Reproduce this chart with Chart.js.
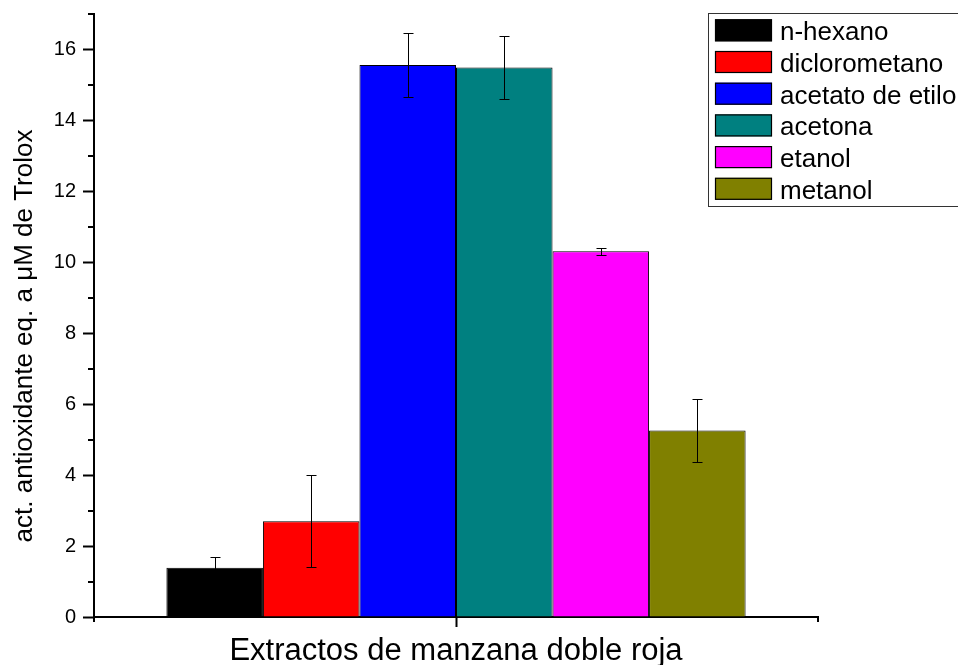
<!DOCTYPE html>
<html>
<head>
<meta charset="utf-8">
<script src="https://cdn.jsdelivr.net/npm/chart.js@4"></script>
<style>
  html, body { margin: 0; padding: 0; background: #ffffff; }
  #wrap { width: 958px; height: 665px; }
</style>
</head>
<body>
<div id="wrap"><canvas id="c" width="958" height="665"></canvas></div>
<script>
// Antioxidant activity (µM Trolox equivalents) by extraction solvent
const categories = ['Extractos de manzana doble roja'];
const solvents = ['n-hexano', 'diclorometano', 'acetato de etilo', 'acetona', 'etanol', 'metanol'];
const activity = [1.39, 2.70, 15.56, 15.49, 10.31, 5.26];
const errors = [0.31, 1.30, 0.90, 0.89, 0.10, 0.90];
const colors = ['#000000', '#ff0000', '#0000ff', '#008080', '#ff00ff', '#808000'];
const yMin = 0, yMax = 17, yMajorStep = 2, yMinorStep = 1;
const yTitle = 'act. antioxidante eq. a \u03bcM de Trolox';

const FONT = "'Liberation Sans', Arial, sans-serif";
Chart.defaults.font.family = FONT;
Chart.defaults.color = '#000000';

const datasets = solvents.map((name, i) => ({
  label: name,
  data: [activity[i]],
  errors: [errors[i]],
  backgroundColor: colors[i],
  borderColor: '#000000',
  borderWidth: 1,
  categoryPercentage: 0.8,
  barPercentage: 1.0
}));

// Error bars, minor ticks, axis-end ticks, y title and legend box
const decor = {
  id: 'decor',
  afterDatasetsDraw(chart) {
    const ctx = chart.ctx;
    const ys = chart.scales.y;
    ctx.save();
    ctx.strokeStyle = '#000000';
    ctx.lineWidth = 1;
    chart.data.datasets.forEach((ds, i) => {
      const meta = chart.getDatasetMeta(i);
      meta.data.forEach((bar, j) => {
        const v = ds.data[j], e = ds.errors[j];
        const cx = Math.round(bar.x) + 0.5;
        const yt = Math.round(ys.getPixelForValue(v + e)) + 0.5;
        const yb = Math.round(ys.getPixelForValue(v - e)) + 0.5;
        const cap = 5;
        ctx.beginPath();
        ctx.moveTo(cx, yt); ctx.lineTo(cx, yb);
        ctx.moveTo(cx - cap, yt); ctx.lineTo(cx + cap, yt);
        ctx.moveTo(cx - cap, yb); ctx.lineTo(cx + cap, yb);
        ctx.stroke();
      });
    });
    ctx.restore();
  },
  afterDraw(chart) {
    const ctx = chart.ctx;
    const ys = chart.scales.y;
    const area = chart.chartArea;
    ctx.save();
    ctx.strokeStyle = '#000000';
    ctx.lineWidth = 2;
    // minor y ticks
    ctx.beginPath();
    for (let v = yMin + yMinorStep; v <= yMax; v += yMajorStep) {
      const py = Math.round(ys.getPixelForValue(v));
      ctx.moveTo(area.left - 6, py);
      ctx.lineTo(area.left, py);
    }
    // short ticks at both ends of the x axis
    ctx.moveTo(area.left, area.bottom);
    ctx.lineTo(area.left, area.bottom + 5);
    ctx.moveTo(area.right, area.bottom);
    ctx.lineTo(area.right, area.bottom + 5);
    ctx.stroke();

    // y axis title
    ctx.fillStyle = '#000000';
    ctx.font = '26px ' + FONT;
    ctx.textAlign = 'center';
    ctx.textBaseline = 'middle';
    ctx.translate(25, 336);
    ctx.rotate(-Math.PI / 2);
    ctx.fillText(yTitle, 0, 0);
    ctx.restore();

    // legend
    ctx.save();
    const lx = 708, ly = 13, rowH = 31.7;
    ctx.strokeStyle = '#333333';
    ctx.lineWidth = 1;
    ctx.strokeRect(lx + 0.5, ly + 0.5, 300, 193);
    ctx.font = '26px ' + FONT;
    ctx.textAlign = 'left';
    ctx.textBaseline = 'alphabetic';
    chart.data.datasets.forEach((ds, i) => {
      const sy = ly + 6.3 + i * rowH;
      ctx.fillStyle = ds.backgroundColor;
      ctx.fillRect(715, sy, 57, 22);
      ctx.strokeStyle = '#000000';
      ctx.lineWidth = 1.2;
      ctx.strokeRect(715.5, sy + 0.5, 56, 21);
      ctx.fillStyle = '#000000';
      ctx.fillText(ds.label, 780, sy + 21);
    });
    ctx.restore();
  }
};

new Chart(document.getElementById('c'), {
  type: 'bar',
  data: { labels: categories, datasets },
  options: {
    responsive: false,
    animation: false,
    devicePixelRatio: 1,
    layout: { padding: { top: 14, right: 140, left: 0, bottom: 0 } },
    plugins: { legend: { display: false }, tooltip: { enabled: false } },
    scales: {
      x: {
        grid: { display: true, drawOnChartArea: false, offset: false, tickLength: 10, tickWidth: 2, tickColor: '#000000' },
        border: { display: true, color: '#000000', width: 2 },
        ticks: { font: { size: 31 }, color: '#000000', padding: 6, maxRotation: 0 },
        afterFit(scale) { scale.height = 48; scale.paddingLeft = 0; scale.paddingRight = 0; }
      },
      y: {
        min: yMin,
        max: yMax,
        grid: { display: true, drawOnChartArea: false, tickLength: 11, tickWidth: 2, tickColor: '#000000' },
        border: { display: true, color: '#000000', width: 2 },
        ticks: { stepSize: yMajorStep, includeBounds: false, font: { size: 20 }, color: '#000000', padding: 7 },
        afterFit(scale) { scale.width = 94; scale.paddingTop = 0; scale.paddingBottom = 0; }
      }
    }
  },
  plugins: [decor]
});
</script>
</body>
</html>
